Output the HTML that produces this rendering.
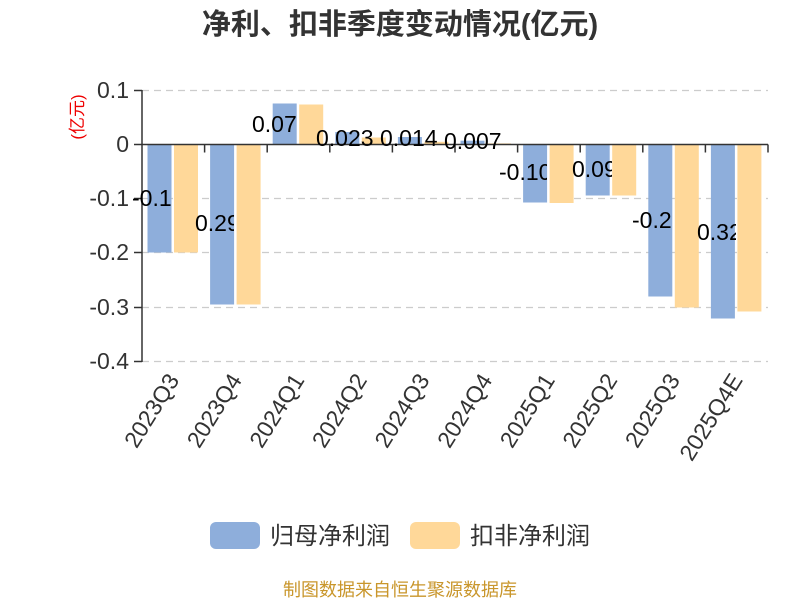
<!DOCTYPE html>
<html><head><meta charset="utf-8"><style>
html,body{margin:0;padding:0;background:#fff;width:800px;height:600px;overflow:hidden}
text{font-family:"Liberation Sans","Noto Sans CJK SC",sans-serif}
</style></head><body>
<svg width="800" height="600" viewBox="0 0 800 600" xmlns="http://www.w3.org/2000/svg">
<text x="400" y="34" text-anchor="middle" font-size="29" font-weight="bold" fill="#333">净利、扣非季度变动情况(亿元)</text>
<g stroke="#ccc" stroke-width="1.2" stroke-dasharray="7,5">
<line x1="142" y1="90.5" x2="768" y2="90.5"/>
<line x1="142" y1="198.5" x2="768" y2="198.5"/>
<line x1="142" y1="252.5" x2="768" y2="252.5"/>
<line x1="142" y1="307.5" x2="768" y2="307.5"/>
<line x1="142" y1="361.5" x2="768" y2="361.5"/>
</g>
<g fill="#8eaedb">
<rect x="147.5" y="144.5" width="24" height="108"/>
<rect x="210.1" y="144.5" width="24" height="160"/>
<rect x="272.7" y="103.5" width="24" height="41"/>
<rect x="335.3" y="132" width="24" height="12.5"/>
<rect x="397.9" y="137" width="24" height="7.5"/>
<rect x="460.5" y="140.7" width="24" height="3.8"/>
<rect x="523.1" y="144.5" width="24" height="58"/>
<rect x="585.7" y="144.5" width="24" height="51"/>
<rect x="648.3" y="144.5" width="24" height="152"/>
<rect x="710.9" y="144.5" width="24" height="174"/>
</g>
<g fill="#ffd899">
<rect x="174" y="144.5" width="24" height="108"/>
<rect x="236.6" y="144.5" width="24" height="160"/>
<rect x="299.2" y="104.5" width="24" height="40"/>
<rect x="361.8" y="137.5" width="24" height="7"/>
<rect x="424.4" y="141.8" width="24" height="2.7"/>
<rect x="487" y="143.4" width="24" height="1.1"/>
<rect x="549.6" y="144.5" width="24" height="58.5"/>
<rect x="612.2" y="144.5" width="24" height="51"/>
<rect x="674.8" y="144.5" width="24" height="163"/>
<rect x="737.4" y="144.5" width="24" height="167"/>
</g>
<g stroke="#333" stroke-width="1.5" fill="none">
<line x1="142" y1="90" x2="142" y2="362"/>
<line x1="134" y1="90.5" x2="142" y2="90.5"/>
<line x1="134" y1="144.5" x2="142" y2="144.5"/>
<line x1="134" y1="198.5" x2="142" y2="198.5"/>
<line x1="134" y1="252.5" x2="142" y2="252.5"/>
<line x1="134" y1="307.5" x2="142" y2="307.5"/>
<line x1="134" y1="361.5" x2="142" y2="361.5"/>
<line x1="142" y1="144.5" x2="768" y2="144.5"/>
<path d="M204.6 144.5v8M267.2 144.5v8M329.8 144.5v8M392.4 144.5v8M455 144.5v8M517.6 144.5v8M580.2 144.5v8M642.8 144.5v8M705.4 144.5v8M768 144.5v8"/>
</g>
<g font-size="23" fill="#333" text-anchor="end">
<text x="129" y="98">0.1</text>
<text x="129" y="152">0</text>
<text x="129" y="206">-0.1</text>
<text x="129" y="260">-0.2</text>
<text x="129" y="315">-0.3</text>
<text x="129" y="369">-0.4</text>
</g>
<text transform="translate(83,117) rotate(-90)" text-anchor="middle" font-size="17" fill="#e00">(亿元)</text>
<defs>
<clipPath id="c0"><rect x="120" y="170" width="52" height="50"/></clipPath>
<clipPath id="c1"><rect x="190" y="200" width="44" height="50"/></clipPath>
<clipPath id="c8"><rect x="620" y="195" width="54" height="50"/></clipPath>
<clipPath id="c9"><rect x="690" y="205" width="46" height="50"/></clipPath>
<clipPath id="c6"><rect x="490" y="150" width="57" height="50"/></clipPath>
<clipPath id="c7"><rect x="565" y="145" width="47" height="50"/></clipPath>
</defs>
<g font-size="23" fill="#000">
<text x="132" y="206" clip-path="url(#c0)">-0.19</text>
<text x="195" y="231" clip-path="url(#c1)">0.29</text>
<text x="252" y="132">0.07</text>
<text x="316" y="146">0.023</text>
<text x="380" y="146">0.014</text>
<text x="444" y="149">0.007</text>
<text x="499" y="180" clip-path="url(#c6)">-0.10</text>
<text x="572" y="177" clip-path="url(#c7)">0.09</text>
<text x="632" y="228" clip-path="url(#c8)">-0.2</text>
<text x="697" y="240" clip-path="url(#c9)">0.32</text>
</g>
<g font-size="23" fill="#333" text-anchor="end">
<text transform="translate(180,380) rotate(-58)">2023Q3</text>
<text transform="translate(242.6,380) rotate(-58)">2023Q4</text>
<text transform="translate(305.2,380) rotate(-58)">2024Q1</text>
<text transform="translate(367.8,380) rotate(-58)">2024Q2</text>
<text transform="translate(430.4,380) rotate(-58)">2024Q3</text>
<text transform="translate(493,380) rotate(-58)">2024Q4</text>
<text transform="translate(555.6,380) rotate(-58)">2025Q1</text>
<text transform="translate(618.2,380) rotate(-58)">2025Q2</text>
<text transform="translate(680.8,380) rotate(-58)">2025Q3</text>
<text transform="translate(743.4,380) rotate(-58)">2025Q4E</text>
</g>
<rect x="210" y="522" width="50" height="27" rx="6" fill="#8eaedb"/>
<text x="270" y="544" font-size="24" fill="#333">归母净利润</text>
<rect x="410" y="522" width="50" height="27" rx="6" fill="#ffd899"/>
<text x="470" y="544" font-size="24" fill="#333">扣非净利润</text>
<text x="400" y="596" text-anchor="middle" font-size="18" fill="#c9962b">制图数据来自恒生聚源数据库</text>
</svg>
</body></html>
